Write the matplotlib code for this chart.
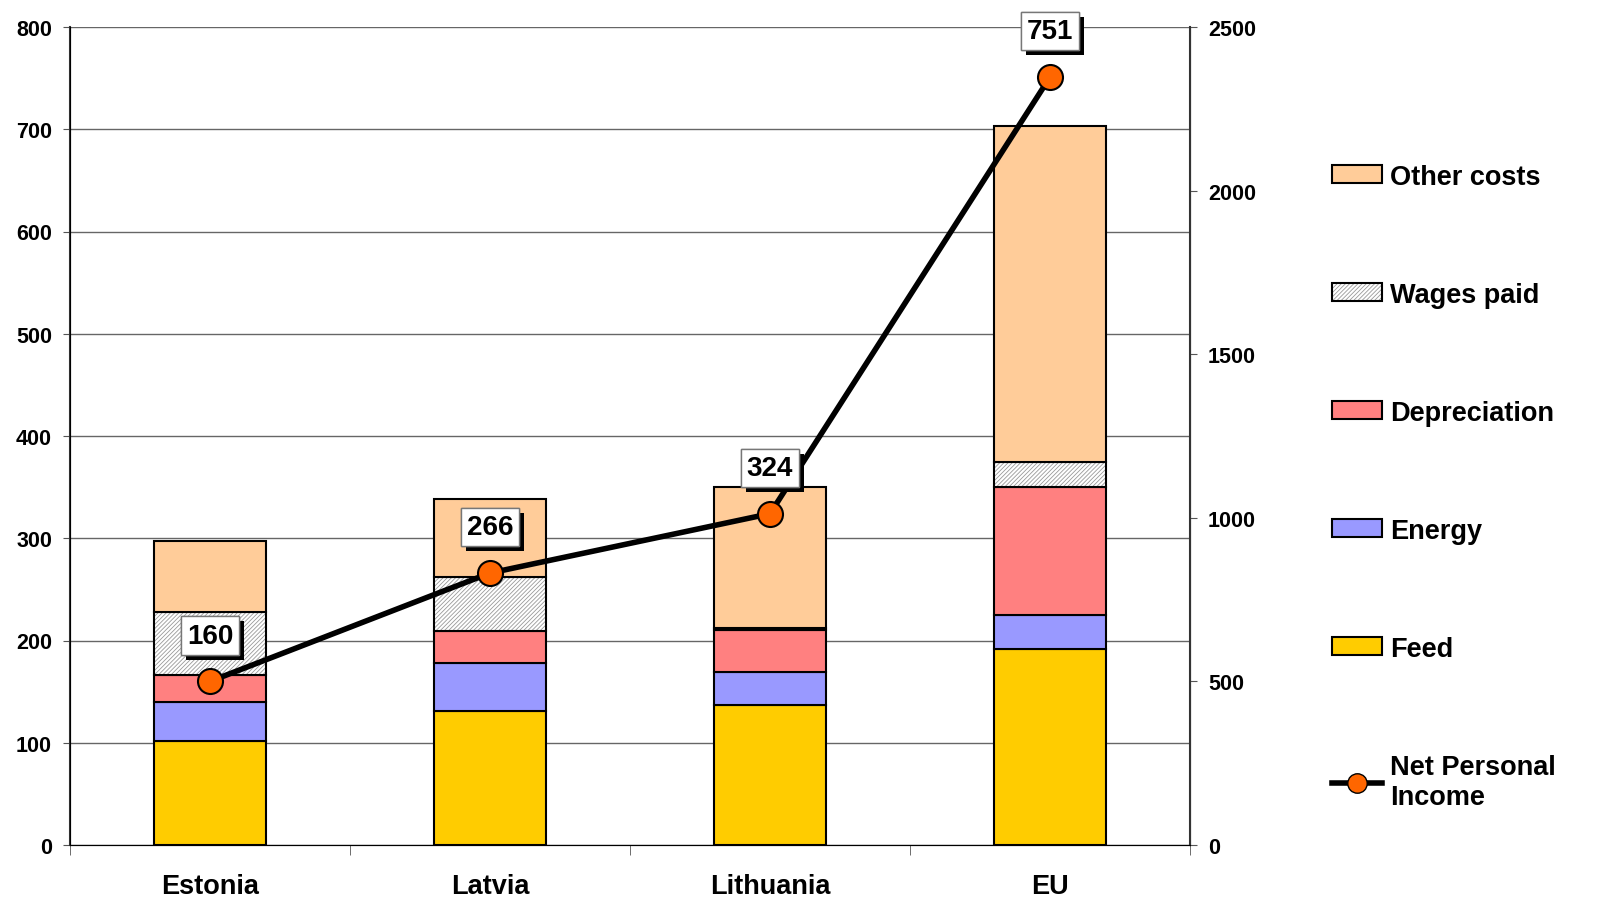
import numpy as np
import matplotlib.pyplot as plt
import matplotlib.patheffects as pe
from matplotlib.patches import Patch
from matplotlib.lines import Line2D
from matplotlib.legend_handler import HandlerTuple

plt.rcParams['font.family'] = ['Liberation Sans', 'DejaVu Sans']
plt.rcParams['font.weight'] = 'bold'
plt.rcParams['hatch.linewidth'] = 0.6

countries = ['Estonia', 'Latvia', 'Lithuania', 'EU']
feed = [102, 131, 137, 192]
energy = [38, 47, 32, 33]
depreciation = [26, 31, 41, 125]
wages = [62, 53, 2, 25]
other = [69, 76, 138, 328]
net_income = [160, 266, 324, 751]

colors = {'Feed': '#FFCC00', 'Energy': '#9999FF', 'Depreciation': '#FF8080',
          'Wages paid': '#FFFFFF', 'Other costs': '#FFCC99'}

fig = plt.figure(figsize=(16.04, 9.2), dpi=100)
ax = fig.add_axes([70/1604, 1-846/920, 1120/1604, 818/920])

x = np.arange(len(countries))
w = 0.4
bottom = np.zeros(len(countries))
for name, vals in [('Feed', feed), ('Energy', energy), ('Depreciation', depreciation),
                   ('Wages paid', wages), ('Other costs', other)]:
    vals = np.array(vals, dtype=float)
    if name == 'Wages paid':
        # hatch in grey, outline in black
        ax.bar(x, vals, w, bottom=bottom, color='white', edgecolor='#999999',
               hatch='////////', linewidth=0, zorder=2)
        ax.bar(x, vals, w, bottom=bottom, fill=False, edgecolor='black',
               linewidth=1.5, zorder=2)
    else:
        ax.bar(x, vals, w, bottom=bottom, color=colors[name], edgecolor='black',
               linewidth=1.5, zorder=2)
    bottom += vals

ax.plot(x, net_income, color='black', lw=4, marker='o', ms=18,
        mfc='#FF6600', mec='black', mew=1.5, zorder=4)

for xi, v in zip(x, net_income):
    t = ax.annotate(str(v), (xi, v), xytext=(0, 33), textcoords='offset points',
                    ha='center', va='center', fontsize=20, fontweight='bold', zorder=5,
                    bbox=dict(boxstyle='square,pad=0.22', fc='white', ec='#777777', lw=1))
    t.get_bbox_patch().set_path_effects([
        pe.withSimplePatchShadow(offset=(3.5, -3.5), shadow_rgbFace='black', alpha=1.0),
        pe.Normal()])

ax.set_xlim(-0.5, 3.5)
ax.set_ylim(0, 800)
ax.set_yticks(np.arange(0, 801, 100))
ax.yaxis.grid(True, color='#666666', lw=1, zorder=0)
ax.set_axisbelow(True)
ax.set_xticks(x)
ax.set_xticklabels(countries, fontsize=19.5, fontweight='bold')
ax.tick_params(axis='x', which='major', length=0, pad=20)
ax.set_xticks(np.arange(-0.5, 3.6, 1), minor=True)
ax.tick_params(axis='x', which='minor', length=7, color='#555555')
ax.tick_params(axis='y', labelsize=15.5, length=5, pad=8, color='#555555')
for lab in ax.get_yticklabels():
    lab.set_fontweight('bold')
ax.spines['top'].set_visible(False)
ax.spines['left'].set_color('#333333')
ax.spines['bottom'].set_color('#333333')
ax.spines['left'].set_linewidth(1.5)

ax2 = ax.twinx()
ax2.set_ylim(0, 2500)
ax2.set_yticks(np.arange(0, 2501, 500))
ax2.tick_params(axis='y', labelsize=15.5, length=5, pad=8, color='#555555')
for lab in ax2.get_yticklabels():
    lab.set_fontweight('bold')
ax2.spines['top'].set_visible(False)
ax2.spines['right'].set_color('#333333')
ax2.spines['right'].set_linewidth(1.5)

handles = [
    Patch(fc=colors['Other costs'], ec='black', lw=1.5),
    (Patch(fc='white', ec='#999999', hatch='////////', lw=0),
     Patch(fill=False, ec='black', lw=1.5)),
    Patch(fc=colors['Depreciation'], ec='black', lw=1.5),
    Patch(fc=colors['Energy'], ec='black', lw=1.5),
    Patch(fc=colors['Feed'], ec='black', lw=1.5),
    Line2D([], [], color='black', lw=4, marker='o', ms=14, mfc='#FF6600', mec='black'),
]
labels = ['Other costs', 'Wages paid', 'Depreciation', 'Energy', 'Feed', 'Net Personal\nIncome']
fig.legend(handles, labels, loc='upper left', bbox_to_anchor=(1318/1604, 1-151/920),
           frameon=False, fontsize=19.5, handlelength=1.85, handleheight=0.65,
           handletextpad=0.3, labelspacing=3.4, borderpad=0,
           handler_map={tuple: HandlerTuple(ndivide=1, pad=0)})

fig.savefig('out.png', dpi=100)
